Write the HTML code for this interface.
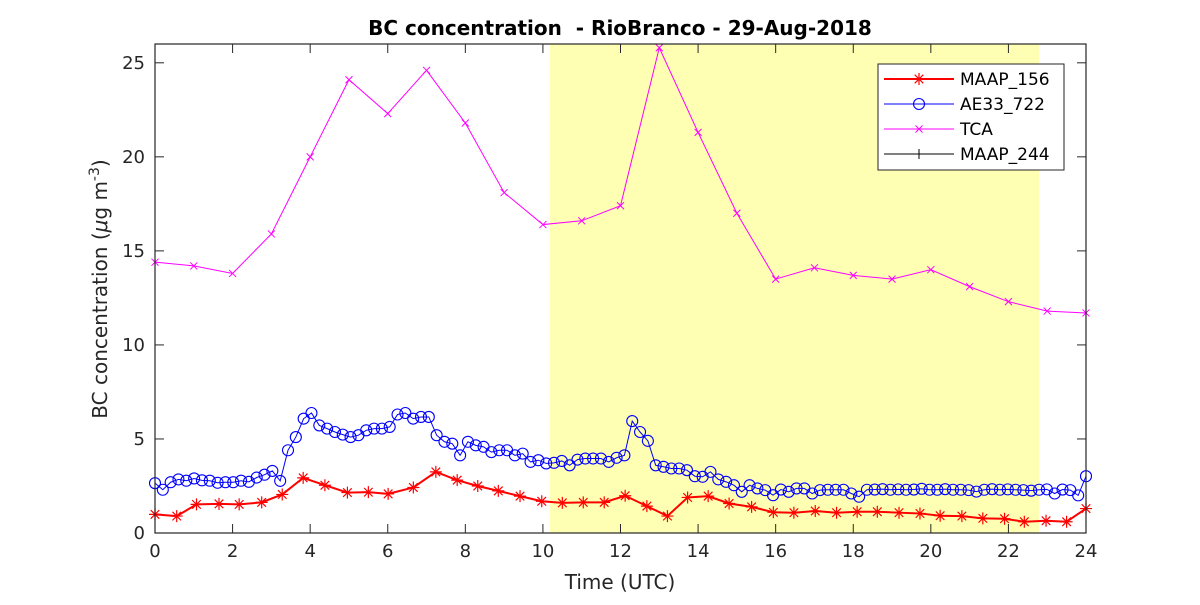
<!DOCTYPE html>
<html><head><meta charset="utf-8"><style>
body{margin:0;background:#fff;}
svg{font-family:"DejaVu Sans","Liberation Sans",sans-serif;}
</style></head><body>
<svg id="chart" width="1200" height="600" xmlns="http://www.w3.org/2000/svg">
<rect width="1200" height="600" fill="#fff"/>
<g id="plot"></g>
</svg>
<script>
const xTicks=[0,2,4,6,8,10,12,14,16,18,20,22,24];
const yTicks=[0,5,10,15,20,25];
const shadeRange=[10.18,22.79];
const maapTimes=[0,0.56,1.07,1.65,2.17,2.75,3.28,3.82,4.38,4.96,5.5,6.01,6.66,7.24,7.79,8.32,8.85,9.41,9.97,10.5,11.04,11.58,12.12,12.68,13.21,13.73,14.26,14.8,15.38,15.94,16.47,17.02,17.57,18.1,18.62,19.18,19.72,20.24,20.8,21.34,21.9,22.41,22.97,23.5,24];
const maapValues=[0.99,0.9,1.52,1.55,1.52,1.63,2.05,2.93,2.54,2.15,2.17,2.08,2.42,3.25,2.81,2.5,2.24,1.96,1.69,1.6,1.63,1.63,1.98,1.43,0.9,1.89,1.96,1.57,1.39,1.1,1.08,1.17,1.08,1.13,1.13,1.08,1.04,0.92,0.9,0.78,0.76,0.6,0.65,0.6,1.3];
const aeValues=[2.65,2.3,2.7,2.85,2.78,2.9,2.8,2.78,2.67,2.7,2.7,2.78,2.72,2.95,3.1,3.3,2.77,4.4,5.1,6.08,6.38,5.72,5.55,5.37,5.23,5.1,5.2,5.46,5.55,5.55,5.64,6.3,6.38,6.08,6.17,6.17,5.2,4.85,4.75,4.13,4.85,4.66,4.58,4.3,4.4,4.4,4.13,4.22,3.78,3.87,3.7,3.73,3.83,3.6,3.9,3.96,3.96,3.96,3.78,4.0,4.13,5.95,5.37,4.9,3.6,3.52,3.43,3.43,3.34,3.02,2.99,3.25,2.85,2.72,2.54,2.19,2.54,2.37,2.28,2.01,2.31,2.19,2.37,2.37,2.1,2.28,2.3,2.3,2.3,2.1,1.93,2.3,2.31,2.33,2.3,2.32,2.3,2.31,2.35,2.3,2.3,2.33,2.3,2.3,2.28,2.2,2.3,2.33,2.3,2.32,2.3,2.28,2.25,2.3,2.32,2.1,2.31,2.28,2.0,3.02];
const tcaTimes=[0,1,2,3,4,5,6,7,8,9,10,11,12,13,14,15,16,17,18,19,20,21,22,23,24];
const tcaValues=[14.4,14.2,13.8,15.9,20.0,24.1,22.3,24.6,21.8,18.1,16.4,16.6,17.4,25.8,21.3,17.0,13.5,14.1,13.7,13.5,14.0,13.1,12.3,11.8,11.7];

const L=155,R=1086,T=44,B=533,YMAX=26;
const xs=t=>L+(R-L)*t/24, ys=v=>B-(B-T)*v/YMAX;
const NS="http://www.w3.org/2000/svg";
const g=document.getElementById('plot');
function mk(tag,attrs,parent){const e=document.createElementNS(NS,tag);for(const k in attrs)e.setAttribute(k,attrs[k]);(parent||g).appendChild(e);return e;}

let e=mk('rect',{x:xs(shadeRange[0]),y:T,width:xs(shadeRange[1])-xs(shadeRange[0]),height:B-T,fill:'#ffffb3'});



xTicks.forEach(t=>{
  mk('line',{x1:xs(t),x2:xs(t),y1:B,y2:B-9,stroke:'#262626'});
  mk('line',{x1:xs(t),x2:xs(t),y1:T,y2:T+9,stroke:'#262626'});
  const tx=mk('text',{x:xs(t),y:B+24,'text-anchor':'middle','font-size':18,fill:'#262626'});
  tx.textContent=t;
  
  
});
yTicks.forEach(v=>{
  mk('line',{x1:L,x2:L+9,y1:ys(v),y2:ys(v),stroke:'#262626'});
  mk('line',{x1:R,x2:R-9,y1:ys(v),y2:ys(v),stroke:'#262626'});
  const tx=mk('text',{x:L-10,y:ys(v)+6,'text-anchor':'end','font-size':18,fill:'#262626'});
  tx.textContent=v;
  
  
});

function star(x,y,c,p){const s=6;mk('path',{d:`M${x-s} ${y}H${x+s}M${x} ${y-s}V${y+s}M${x-4.3} ${y-4.3}L${x+4.3} ${y+4.3}M${x-4.3} ${y+4.3}L${x+4.3} ${y-4.3}`,stroke:c,'stroke-width':1.2,fill:'none'},p);}
function circ(x,y,c,p){mk('circle',{cx:x,cy:y,r:5.5,stroke:c,fill:'none','stroke-width':1.1},p);}
function xm(x,y,c,p){const s=3.5;mk('path',{d:`M${x-s} ${y-s}L${x+s} ${y+s}M${x-s} ${y+s}L${x+s} ${y-s}`,stroke:c,fill:'none'},p);}
function plus(x,y,c,p){const s=5;mk('path',{d:`M${x-s} ${y}H${x+s}M${x} ${y-s}V${y+s}`,stroke:c,fill:'none'},p);}

function series(times,vals,color,w,marker,name){
  const sg=mk('g',{});
  
  
  mk('polyline',{points:times.map((t,i)=>xs(t)+','+ys(vals[i])).join(' '),fill:'none',stroke:color,'stroke-width':w},sg);
  times.forEach((t,i)=>marker(xs(t),ys(vals[i]),color,sg));
}
const aeTimes=aeValues.map((_,i)=>i*24/(aeValues.length-1));
series(tcaTimes,tcaValues,'#ff00ff',1,xm,'tca-series');
series(aeTimes,aeValues,'#0000ff',1,circ,'ae33-722-series');
series(maapTimes,maapValues,'#ff0000',2,star,'maap-156-series');

e=mk('rect',{x:L,y:T,width:R-L,height:B-T,fill:'none',stroke:'#262626','stroke-width':1.2});



e=mk('text',{x:620,y:35,'text-anchor':'middle','font-size':20,'font-weight':'bold',fill:'#000',style:'white-space:pre'});
e.textContent='BC concentration  - RioBranco - 29-Aug-2018';



e=mk('text',{x:620,y:589,'text-anchor':'middle','font-size':20,fill:'#262626'});
e.textContent='Time (UTC)';



e=mk('text',{transform:'translate(107,289) rotate(-90)','text-anchor':'middle','font-size':20,fill:'#262626'});
e.innerHTML='BC concentration (<tspan font-style="italic">μ</tspan>g m<tspan dy="-8" font-size="14">-3</tspan><tspan dy="8">)</tspan>';



const lg=mk('g',{});


mk('rect',{x:878,y:64,width:186,height:106,fill:'#fff',stroke:'#262626'},lg);
const entries=[['MAAP_156','#ff0000',star,2],['AE33_722','#0000ff',circ,1],['TCA','#ff00ff',xm,1],['MAAP_244','#000',plus,1]];
entries.forEach((en,i)=>{
  const y=79+i*25;
  const eg=mk('g',{},lg);
  
  
  mk('line',{x1:884,x2:954,y1:y,y2:y,stroke:en[1],'stroke-width':en[3]},eg);
  en[2](919,y,en[1],eg);
  const t=mk('text',{x:960,y:y+6,'font-size':17,fill:'#000'},eg);
  t.textContent=en[0];
});
</script>
</body></html>
